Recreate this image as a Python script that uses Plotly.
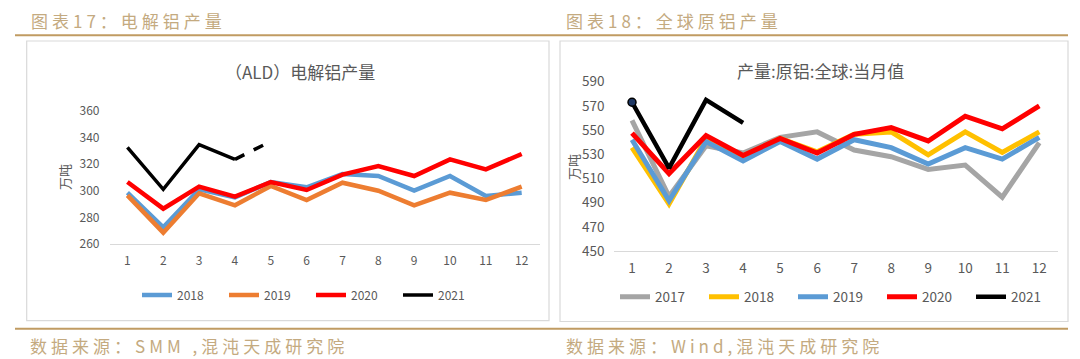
import plotly.graph_objects as go

W, H = 1080, 359
OFF = 8  # page body margin offset

months = list(range(1, 13))

# Left chart: (ALD) 电解铝产量, 万吨
ald_2018 = [298.5, 272.5, 301, 295, 306.5, 302.5, 312.5, 311, 300, 311, 296, 298.5]
ald_2019 = [296.5, 268.5, 298, 289, 303.5, 293, 306, 300, 289, 298.5, 293, 303]
ald_2020 = [306.5, 286.5, 303, 295.5, 306.5, 300.5, 312, 318.5, 311, 323.5, 316, 327.5]
ald_2021 = [332.5, 301, 334.5, 323.5, 337]
ald_2021_months = [1, 2, 3, 4, 5]

# Right chart: 产量:原铝:全球:当月值, 万吨
glb_2017 = [558, 495, 537, 531, 544, 548.5, 533.5, 528, 517.5, 521, 494.5, 539.5]
glb_2018 = [535.5, 489, 543, 528.5, 543, 532, 546.5, 548.5, 529.5, 548.5, 531.5, 548.5]
glb_2019 = [542, 491.5, 540.5, 524.5, 540.5, 526, 542, 535.5, 522, 535.5, 526, 544]
glb_2020 = [547.5, 514, 545.5, 529, 543, 531, 546.5, 552, 541, 561.5, 551, 570]
glb_2021 = [573, 518.5, 575, 556]
glb_2021_months = [1, 2, 3, 4]

left_names = ["2018", "2019", "2020", "2021"]
right_names = ["2017", "2018", "2019", "2020", "2021"]

GRAY_TXT = "#595959"
TAN = "#c09b62"
TAN_TXT = "#c4aa80"
FONT = "Noto Sans CJK SC"


def px(x):
    return (x - OFF) / W


def py(y):
    return 1 - (y - OFF) / H


fig = go.Figure()

# ---- left traces
left_series = [
    (ald_2018, "#5b9bd5", 4.5),
    (ald_2019, "#ed7d31", 4.5),
    (ald_2020, "#ff0000", 4.5),
]
for name, (vals, col, w) in zip(left_names[:3], left_series):
    fig.add_trace(go.Scatter(x=months, y=vals, mode="lines", name=name,
                             line=dict(color=col, width=w),
                             xaxis="x", yaxis="y", legend="legend"))
fig.add_trace(go.Scatter(x=ald_2021_months[:4], y=ald_2021[:4], mode="lines",
                         name=left_names[3], line=dict(color="#000000", width=3.5),
                         xaxis="x", yaxis="y", legend="legend"))
fig.add_trace(go.Scatter(x=ald_2021_months[3:], y=ald_2021[3:], mode="lines",
                         name=left_names[3], showlegend=False,
                         line=dict(color="#000000", width=3.5, dash="dash"),
                         xaxis="x", yaxis="y", legend="legend"))

# ---- right traces
right_series = [
    (glb_2017, "#a5a5a5", 5),
    (glb_2018, "#ffc000", 5),
    (glb_2019, "#5b9bd5", 5),
    (glb_2020, "#ff0000", 5),
]
for name, (vals, col, w) in zip(right_names[:4], right_series):
    fig.add_trace(go.Scatter(x=months, y=vals, mode="lines", name=name,
                             line=dict(color=col, width=w),
                             xaxis="x2", yaxis="y2", legend="legend2"))
fig.add_trace(go.Scatter(x=glb_2021_months, y=glb_2021, mode="lines",
                         name=right_names[4], line=dict(color="#000000", width=4.5),
                         xaxis="x2", yaxis="y2", legend="legend2"))
fig.add_trace(go.Scatter(x=glb_2021_months[:1], y=glb_2021[:1], mode="markers",
                         showlegend=False,
                         marker=dict(color="#1f3864", size=8,
                                     line=dict(color="#000000", width=1.5)),
                         xaxis="x2", yaxis="y2", legend="legend2"))


def tf(size):
    return dict(family=FONT, color=GRAY_TXT, size=size)


axis_common = dict(showgrid=False, zeroline=False, ticks="", automargin=False)

fig.update_layout(
    width=W, height=H,
    margin=dict(l=0, r=0, t=0, b=0),
    paper_bgcolor="white", plot_bgcolor="white",
    font=dict(family=FONT, color=GRAY_TXT),
    showlegend=True,
    xaxis=dict(domain=[px(109.5), px(539.6)], range=[0.5, 12.5], tickvals=months,
               showline=True, linecolor="#d9d9d9", linewidth=1,
               ticklabelstandoff=6, anchor="y", tickfont=tf(12), **axis_common),
    yaxis=dict(domain=[py(244), py(110.7)], range=[260, 360], dtick=20, tick0=260,
               showline=False, ticklabelstandoff=9, anchor="x", tickfont=tf(12), **axis_common),
    xaxis2=dict(domain=[px(613.5), px(1057.8)], range=[0.5, 12.5], tickvals=months,
                showline=True, linecolor="#d9d9d9", linewidth=1,
                ticklabelstandoff=5, anchor="y2", tickfont=tf(13.5), **axis_common),
    yaxis2=dict(domain=[py(251), py(81.7)], range=[450, 590], dtick=20, tick0=450,
                showline=False, ticklabelstandoff=8, anchor="x2", tickfont=tf(13.5), **axis_common),
    legend=dict(orientation="h", x=px(137), xanchor="left", y=py(295), yanchor="middle",
                font=tf(12), entrywidth=42, entrywidthmode="pixels",
                bgcolor="rgba(0,0,0,0)"),
    legend2=dict(orientation="h", x=px(615), xanchor="left", y=py(297), yanchor="middle",
                 font=tf(13.5), entrywidth=44, entrywidthmode="pixels",
                 bgcolor="rgba(0,0,0,0)"),
)

shapes = [
    dict(type="line", xref="paper", yref="paper", x0=px(15), x1=px(1068),
         y0=py(35.3), y1=py(35.3), line=dict(color=TAN, width=2)),
    dict(type="line", xref="paper", yref="paper", x0=px(15), x1=px(1068),
         y0=py(328.7), y1=py(328.7), line=dict(color=TAN, width=2)),
    dict(type="rect", xref="paper", yref="paper", x0=px(26.7), x1=px(549),
         y0=py(320.7), y1=py(41), line=dict(color="#d9d9d9", width=1.2), layer="below"),
    dict(type="rect", xref="paper", yref="paper", x0=px(560), x1=px(1068),
         y0=py(321.5), y1=py(41), line=dict(color="#d9d9d9", width=1.2), layer="below"),
]
fig.update_layout(shapes=shapes)


def spaced(s, sp):
    return '<span style="letter-spacing:%dpx">%s</span>' % (sp, s)


annotations = [
    dict(text=spaced("图表17：电解铝产量", 4), x=px(29), y=py(20), xanchor="left", yanchor="middle",
         font=dict(family=FONT, size=17, color=TAN_TXT)),
    dict(text=spaced("图表18：全球原铝产量", 4), x=px(564), y=py(20), xanchor="left", yanchor="middle",
         font=dict(family=FONT, size=17, color=TAN_TXT)),
    dict(text=spaced("数据来源：SMM ,混沌天成研究院", 4), x=px(28), y=py(345), xanchor="left",
         yanchor="middle", font=dict(family=FONT, size=17, color=TAN_TXT)),
    dict(text=spaced("数据来源：Wind,混沌天成研究院", 4), x=px(564), y=py(345), xanchor="left",
         yanchor="middle", font=dict(family=FONT, size=17, color=TAN_TXT)),
    dict(text="（ALD）电解铝产量", x=px(300), y=py(72), xanchor="center", yanchor="middle",
         font=dict(family=FONT, size=17, color=GRAY_TXT)),
    dict(text="产量:原铝:全球:当月值", x=px(820), y=py(70), xanchor="center", yanchor="middle",
         font=dict(family=FONT, size=17, color=GRAY_TXT)),
    dict(text="万吨", x=px(64), y=py(177), xanchor="center", yanchor="middle", textangle=-90,
         font=dict(family=FONT, size=13, color=GRAY_TXT)),
    dict(text="万吨", x=px(573), y=py(167), xanchor="center", yanchor="middle", textangle=-90,
         font=dict(family=FONT, size=13, color=GRAY_TXT)),
]
for a in annotations:
    a.update(xref="paper", yref="paper", showarrow=False)
fig.update_layout(annotations=annotations)

fig.write_html("out.html")
